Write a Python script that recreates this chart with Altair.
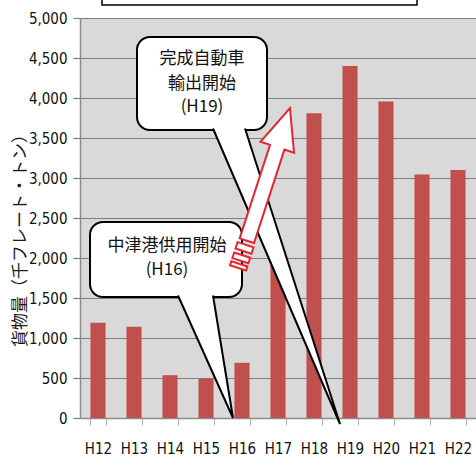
import altair as alt
import pandas as pd

years = ["H12", "H13", "H14", "H15", "H16", "H17", "H18", "H19", "H20", "H21", "H22"]
values = [1190, 1140, 535, 490, 690, 1950, 3810, 4400, 3955, 3045, 3100]
y_ticks = [0, 500, 1000, 1500, 2000, 2500, 3000, 3500, 4000, 4500, 5000]

callout1_lines = ["完成自動車", "輸出開始", "(H19)"]
callout2_lines = ["中津港供用開始", "(H16)"]
y_title = "貨物量（千フレート・トン）"

df = pd.DataFrame({"year": years, "value": values})
one = pd.DataFrame({"a": [0]})

NARROW = "DejaVu Sans Condensed, Liberation Sans Narrow, Arial Narrow, sans-serif"
CJK = "Noto Sans CJK JP"

bars = alt.Chart(df).mark_bar(color="#c0504d").encode(
    x=alt.X(
        "year:N",
        sort=years,
        scale=alt.Scale(paddingInner=0.58, paddingOuter=0.29),
        axis=alt.Axis(
            title=None,
            labelAngle=0,
            labelFont=NARROW,
            labelFontSize=15,
            labelColor="#111111",
            labelPadding=16,
            tickSize=7,
            tickBand="extent",
            tickColor="#b0b0b0",
            domainColor="#8c8c8c",
            domainWidth=1.5,
            grid=False,
        ),
    ),
    y=alt.Y(
        "value:Q",
        scale=alt.Scale(domain=[0, 5000], nice=False),
        axis=alt.Axis(
            values=y_ticks,
            format=",d",
            labelFont=NARROW,
            labelFontSize=15,
            labelColor="#111111",
            labelPadding=6,
            tickSize=7,
            tickColor="#7f7f7f",
            tickWidth=1.2,
            gridColor="#7f7f7f",
            gridWidth=1.2,
            domainColor="#8c8c8c",
            domainWidth=1.5,
            title=y_title,
            titleFont=CJK,
            titleFontSize=17,
            titleFontWeight="normal",
            titleColor="#1a1a1a",
            titleAngle=270,
            titleX=-60,
            titleY=218,
            titleAlign="center",
            titleBaseline="middle",
        ),
    ),
)

# partial framed box at the very top (cut off)
top_box = alt.Chart(one).mark_rect(fill="white", stroke="black", strokeWidth=1.5).encode(
    x=alt.value(22), x2=alt.value(337), y=alt.value(-40), y2=alt.value(-13)
)

def box(x1, x2, y1, y2):
    return alt.Chart(one).mark_rect(
        fill="white", stroke="black", strokeWidth=2, cornerRadius=13
    ).encode(x=alt.value(x1), x2=alt.value(x2), y=alt.value(y1), y2=alt.value(y2))

def tail(path):
    return alt.Chart(one).mark_point(
        shape=path, size=4, filled=True, fill="white", fillOpacity=1,
        stroke="black", strokeWidth=2, opacity=1,
    ).encode(x=alt.value(0), y=alt.value(0))

def text(t, x, y):
    return alt.Chart(one).mark_text(
        text=t, font=CJK, fontSize=17, color="#111111", align="center", baseline="middle"
    ).encode(x=alt.value(x), y=alt.value(y))

box1 = box(57, 187, 19, 112)
tail1 = tail("M133,110.5 L260,406 L165,110.5")
box2 = box(10, 162, 204, 279)
tail2 = tail("M98,277.5 L153,400 L133,277.5")

t1 = [text(callout1_lines[0], 122, 41), text(callout1_lines[1], 122, 66), text(callout1_lines[2], 122, 89)]
t2 = [text(callout2_lines[0], 87, 228), text(callout2_lines[1], 87, 252)]

arrow_path = (
    "M0,-1 L0.21,-0.51 L0.09,-0.51 L0.09,0.66 L-0.09,0.66 L-0.09,-0.51 L-0.21,-0.51 Z "
    "M-0.1,0.71 L0.1,0.71 L0.1,0.79 L-0.1,0.79 Z "
    "M-0.1,0.84 L0.1,0.84 L0.1,0.91 L-0.1,0.91 Z "
    "M-0.1,0.95 L0.1,0.95 L0.1,1 L-0.1,1 Z"
)
arrow = alt.Chart(one).mark_point(
    shape=arrow_path, size=168 * 168, angle=18, filled=True, fill="white",
    fillOpacity=1, stroke="#e3262f", strokeWidth=2, opacity=1,
).encode(x=alt.value(184), y=alt.value(170))

chart = alt.layer(
    bars, top_box, box1, tail1, box2, tail2, *t1, *t2, arrow
).properties(
    width=396,
    height=400,
    autosize=alt.AutoSizeParams(type="none"),
    padding={"left": 80, "top": 18, "right": 0, "bottom": 48},
    background="white",
).configure_view(fill="#d9d9d9", stroke="#9a9a9a", strokeWidth=1)

chart.save("out.html", embed_options={"renderer": "svg", "actions": False})
